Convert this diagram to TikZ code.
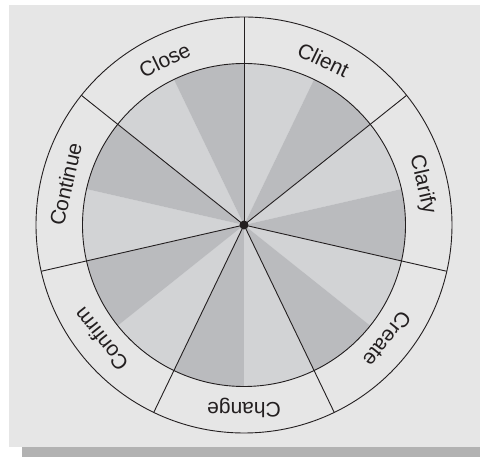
\documentclass[tikz,border=0pt]{standalone}
\usepackage{fontspec}
\setmainfont{Liberation Sans}
\definecolor{bgc}{HTML}{E6E6E6}
\definecolor{shadowc}{HTML}{B2B2B2}
\definecolor{lightw}{HTML}{D2D3D5}
\definecolor{darkw}{HTML}{BABBBE}
\definecolor{inkc}{HTML}{231F20}
\tikzset{
  divider/.style={draw=inkc, line width=0.9pt},
  ring/.style={draw=inkc, line width=0.9pt},
  seglabel/.style={font=\fontsize{21}{25}\selectfont, text=inkc, inner sep=0pt, anchor=center},
}
\begin{document}
\begin{tikzpicture}[x=1pt,y=1pt]
\useasboundingbox (-244,-232) rectangle (236,225);
% background and shadow
\fill[shadowc] (-222,-232) rectangle (240,-210);
\fill[bgc] (-235,-222) rectangle (240,220);
\coordinate (c) at (0,0);
% outer ring
\fill[bgc] (c) circle[radius=208pt];
% wedges
\foreach \i in {0,...,13}{
  \pgfmathsetmacro{\a}{90-\i*360/14}
  \pgfmathsetmacro{\b}{90-(\i+1)*360/14}
  \pgfmathtruncatemacro{\odd}{mod(\i,2)}
  \ifnum\odd=0
    \fill[lightw] (c) -- (\a:161.5pt) arc[start angle=\a, end angle=\b, radius=161.5pt] -- cycle;
  \else
    \fill[darkw] (c) -- (\a:161.5pt) arc[start angle=\a, end angle=\b, radius=161.5pt] -- cycle;
  \fi
}
\draw[ring] (c) circle[radius=161.5pt];
\draw[ring] (c) circle[radius=208pt];
% dividers
\foreach \k in {0,...,6}{
  \pgfmathsetmacro{\a}{90-\k*360/7}
  \coordinate (e\k) at (\a:208pt);
  \draw[divider] (c) -- (e\k);
}
\node[circle, fill=inkc, inner sep=0pt, minimum size=9pt] (hub) at (c) {};
% labels
\foreach \name/\k in {Client/0, Clarify/1, Create/2, Change/3, Confirm/4, Continue/5, Close/6}{
  \pgfmathsetmacro{\m}{90-(\k+0.5)*360/7}
  \pgfmathsetmacro{\r}{\m-90}
  \node[seglabel, rotate=\r] (lab\k) at (\m:183pt) {\name};
}
\end{tikzpicture}
\end{document}
